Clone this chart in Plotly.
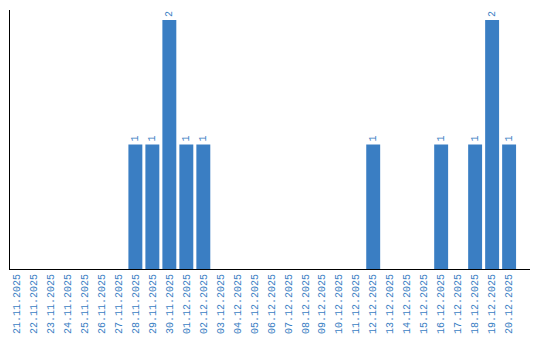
import plotly.graph_objects as go

dates = ["21.11.2025","22.11.2025","23.11.2025","24.11.2025","25.11.2025","26.11.2025","27.11.2025",
         "28.11.2025","29.11.2025","30.11.2025","01.12.2025","02.12.2025","03.12.2025","04.12.2025",
         "05.12.2025","06.12.2025","07.12.2025","08.12.2025","09.12.2025","10.12.2025","11.12.2025",
         "12.12.2025","13.12.2025","14.12.2025","15.12.2025","16.12.2025","17.12.2025","18.12.2025",
         "19.12.2025","20.12.2025"]
counts = [0,0,0,0,0,0,0,1,1,2,1,1,0,0,0,0,0,0,0,0,0,1,0,0,0,1,0,1,2,1]

color = "#3a7ec3"
font_family = "Liberation Mono"
labels = [str(v) if v > 0 else "" for v in counts]

fig = go.Figure(go.Bar(
    x=list(range(len(dates))), y=counts, marker_color=color, marker_line_width=0,
    text=labels, textposition="outside", textangle=-90,
    textfont=dict(color=color, size=10, family=font_family),
    cliponaxis=False,
))
fig.update_layout(
    width=540, height=340, margin=dict(l=10, r=10, t=10, b=71, autoexpand=False),
    paper_bgcolor="white", plot_bgcolor="white", bargap=0.18,
    showlegend=False,
)
fig.update_xaxes(range=[-0.38, 30.23], tickmode="array", tickvals=list(range(len(dates))),
                 ticktext=dates, tickangle=-90, showline=True, linecolor="black", linewidth=1,
                 showgrid=False, zeroline=False, ticks="", automargin=False,
                 tickfont=dict(color=color, size=10, family=font_family))
fig.update_yaxes(range=[0, 2.08], showline=True, linecolor="black", linewidth=1,
                 showgrid=False, showticklabels=False, ticks="", zeroline=False, automargin=False)
fig.write_html("out.html")
